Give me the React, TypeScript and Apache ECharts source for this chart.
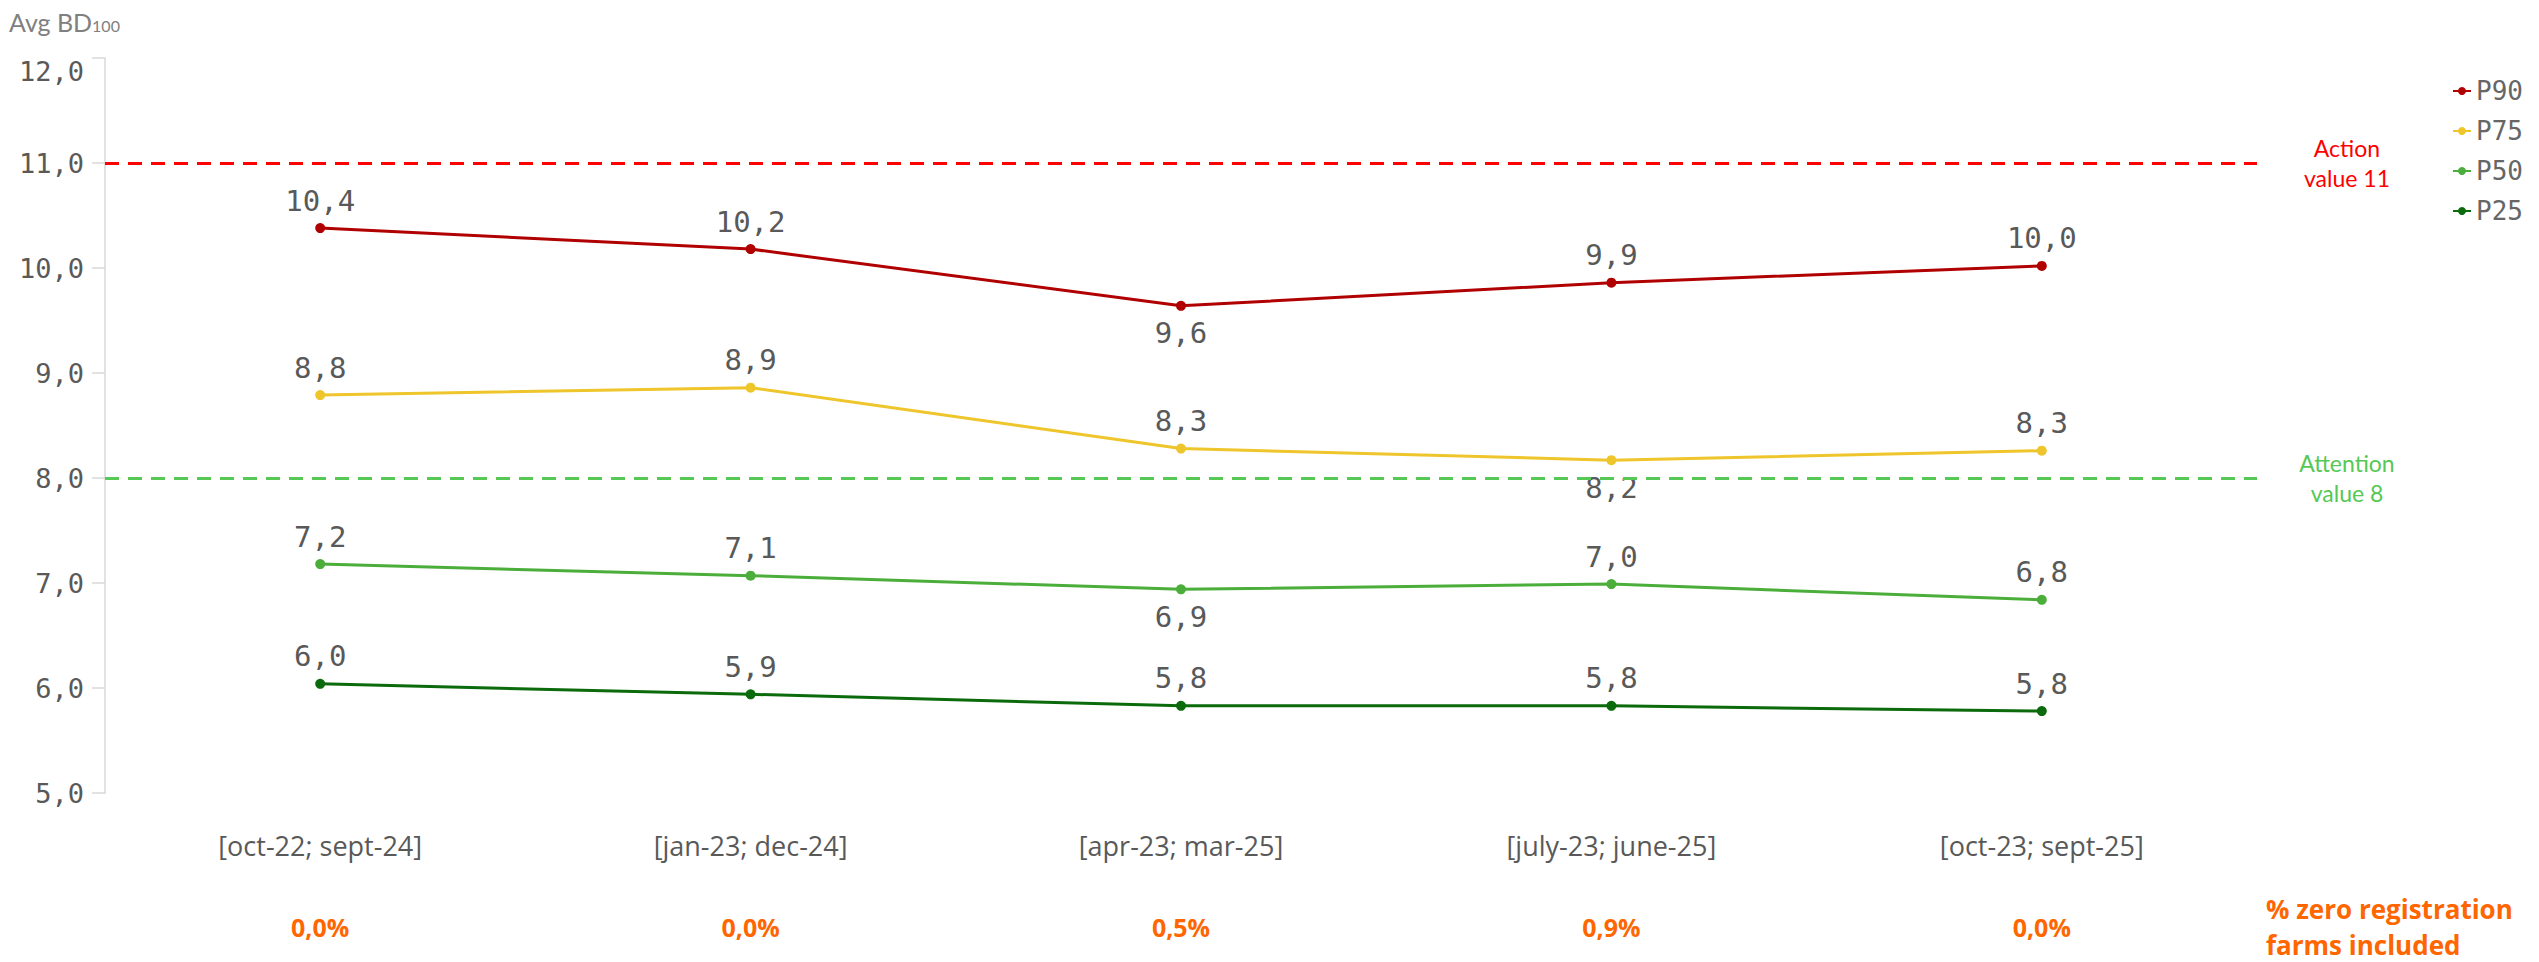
import React, { useEffect, useRef } from "react";
import * as echarts from "echarts";

const categories = ["[oct-22; sept-24]", "[jan-23; dec-24]", "[apr-23; mar-25]", "[july-23; june-25]", "[oct-23; sept-25]"];
const p90 = [10.38, 10.18, 9.64, 9.86, 10.02];
const p75 = [8.79, 8.86, 8.28, 8.17, 8.26];
const p50 = [7.18, 7.07, 6.94, 6.99, 6.84];
const p25 = [6.04, 5.94, 5.83, 5.83, 5.78];
const zeroPct = ["0,0%", "0,0%", "0,5%", "0,9%", "0,0%"];
const actionValue = 11;
const attentionValue = 8;

const fmt = (v: number) => v.toFixed(1).replace(".", ",");
const MONO = "DejaVu Sans Mono";

export default function App() {
  const ref = useRef<HTMLDivElement>(null);
  useEffect(() => {
    document.body.style.margin = "0";
    const chart = echarts.init(ref.current!, null, { renderer: "svg" });
    const mk = (name: string, data: number[], color: string, below: number[], extra: any = {}) => ({
      name,
      type: "line",
      data: data.map((v, i) => ({
        value: v,
        label: { position: below.includes(i) ? "bottom" : "top" },
      })),
      symbol: "circle",
      symbolSize: 10,
      itemStyle: { color },
      lineStyle: { color, width: 3 },
      label: {
        show: true,
        distance: 8,
        formatter: (p: any) => fmt(p.value),
        fontFamily: MONO,
        fontSize: 29,
        color: "#595959",
      },
      ...extra,
    });
    chart.setOption({
      animation: false,
      title: {
        text: "Avg BD{s|100}",
        left: 4,
        top: 4,
        textStyle: {
          fontFamily: "Lato",
          fontSize: 25,
          fontWeight: "normal",
          color: "#808080",
          rich: { s: { fontFamily: "Lato", fontSize: 16, color: "#808080", padding: [8, 0, 0, 0] } },
        },
      },
      legend: {
        orient: "vertical",
        left: 2447,
        top: 73,
        itemGap: 14,
        itemWidth: 18,
        itemHeight: 10,
        textStyle: { fontFamily: MONO, fontSize: 26, color: "#666666" },
        data: ["P90", "P75", "P50", "P25"],
      },
      grid: { left: 105, right: 282, top: 58, bottom: 169, containLabel: false },
      xAxis: [
        {
          type: "category",
          data: categories,
          axisLine: { show: false },
          axisTick: { show: false },
          axisLabel: { margin: 39, fontFamily: "Open Sans", fontSize: 27, color: "#595959" },
        },
        {
          type: "category",
          data: categories,
          position: "bottom",
          offset: 100,
          axisLine: { show: false },
          axisTick: { show: false },
          axisLabel: {
            margin: 21,
            formatter: (_v: string, i: number) => zeroPct[i],
            fontFamily: "Open Sans",
            fontWeight: "bold",
            fontSize: 25,
            color: "#FF6600",
          },
        },
      ],
      yAxis: {
        type: "value",
        min: 5,
        max: 12,
        interval: 1,
        axisLine: { show: true, lineStyle: { color: "#d9d9d9", width: 1.5 } },
        axisTick: { show: true, length: 13, lineStyle: { color: "#d9d9d9", width: 1.5 } },
        splitLine: { show: false },
        axisLabel: {
          margin: 21,
          formatter: (v: number) => fmt(v),
          fontFamily: MONO,
          fontSize: 27,
          color: "#595959",
          verticalAlignMaxLabel: "top",
        },
      },
      graphic: [
        {
          type: "text",
          left: 2266,
          top: 891,
          style: {
            text: "% zero registration\nfarms included",
            fontFamily: "Open Sans",
            fontWeight: "bold",
            fontSize: 26,
            lineHeight: 36,
            fill: "#FF6600",
            align: "center",
          },
        },
      ],
      series: [
        mk("P90", p90, "#B00000", [2], {
          markLine: {
            silent: true,
            symbol: "none",
            data: [{ yAxis: actionValue }],
            lineStyle: { color: "#FF0000", type: [14, 9], width: 3 },
            label: {
              show: true,
              position: "end",
              formatter: "Action\nvalue " + actionValue,
              align: "center",
              distance: 90,
              fontFamily: "Lato",
              fontSize: 23,
              lineHeight: 30,
              color: "#FF0000",
            },
          },
        }),
        mk("P75", p75, "#EEC52B", [3], {
          markLine: {
            silent: true,
            symbol: "none",
            data: [{ yAxis: attentionValue }],
            lineStyle: { color: "#55C855", type: [14, 9], width: 3 },
            label: {
              show: true,
              position: "end",
              formatter: "Attention\nvalue " + attentionValue,
              align: "center",
              distance: 90,
              fontFamily: "Lato",
              fontSize: 23,
              lineHeight: 30,
              color: "#55C855",
            },
          },
        }),
        mk("P50", p50, "#4BAE3A", [2]),
        mk("P25", p25, "#0B6A0B", []),
      ],
    });
    return () => chart.dispose();
  }, []);
  return <div ref={ref} style={{ width: 2539, height: 962 }} />;
}
